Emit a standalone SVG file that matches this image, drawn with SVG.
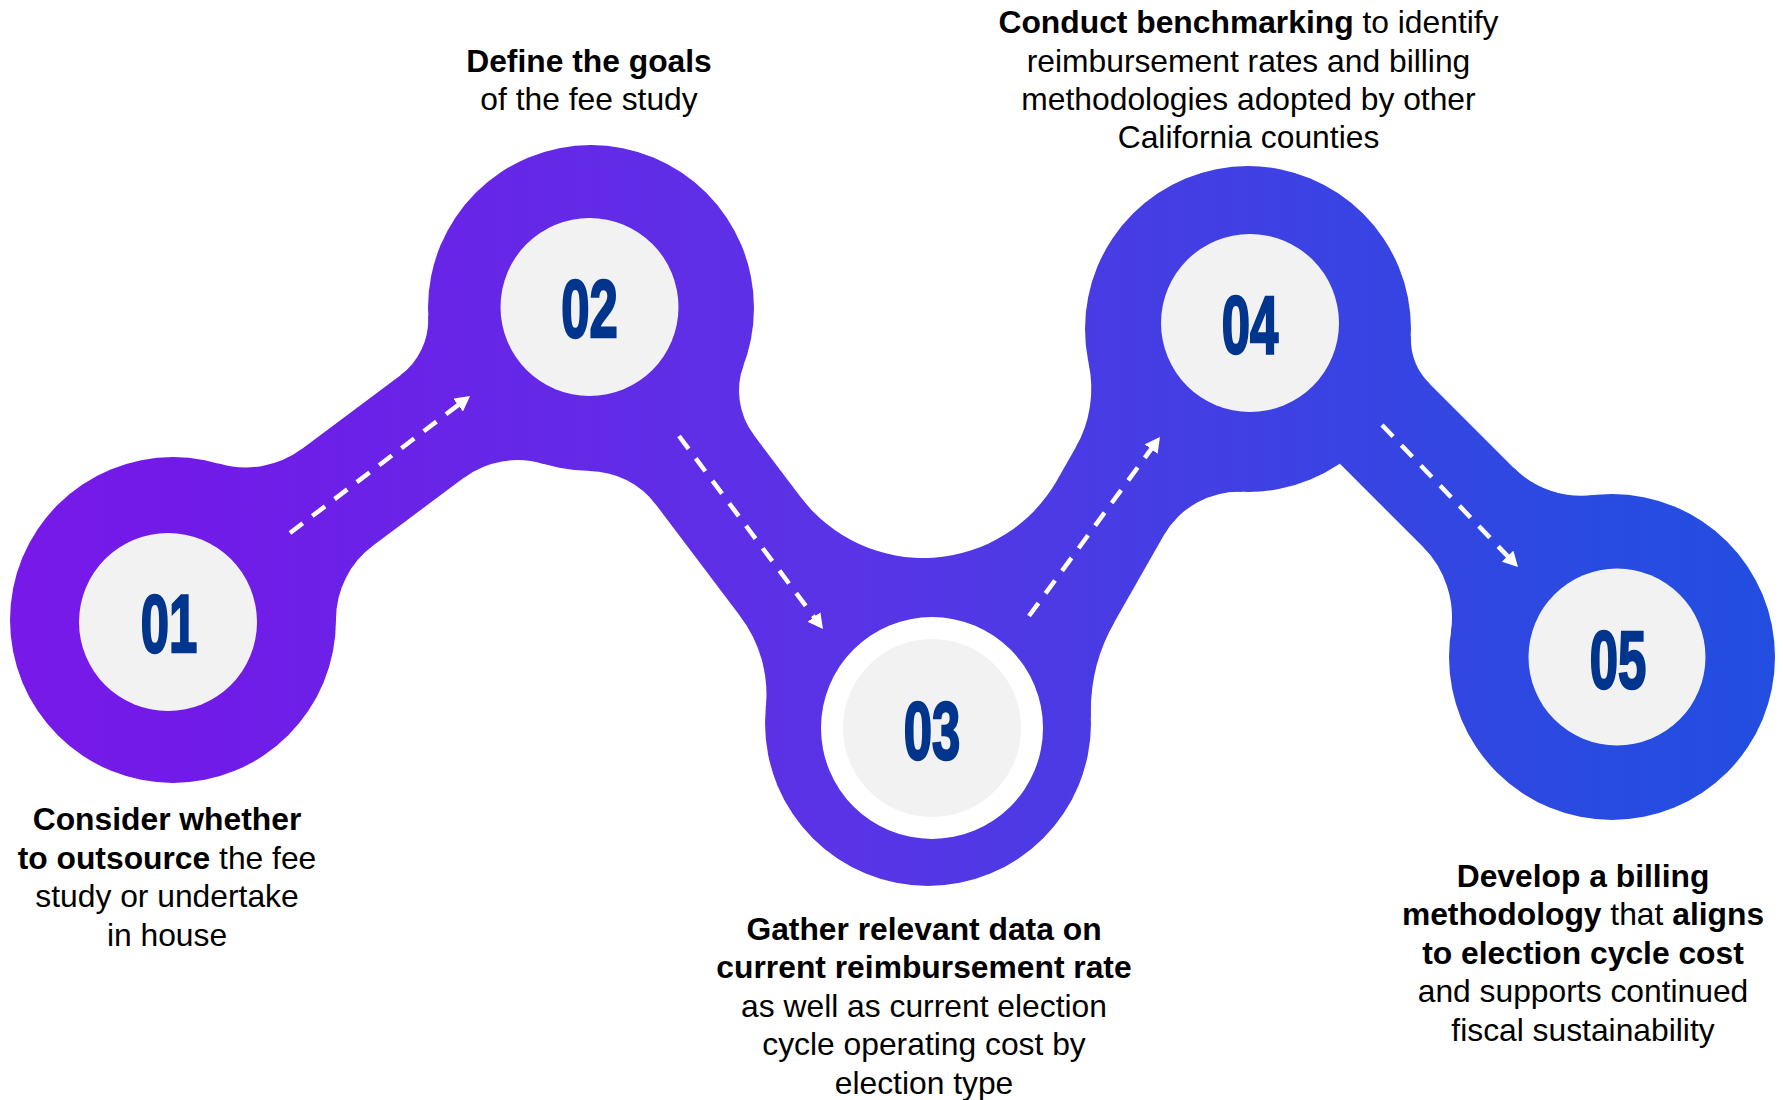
<svg xmlns="http://www.w3.org/2000/svg" width="1783" height="1100" viewBox="0 0 1783 1100">
  <defs>
    <!-- horizontal violet-to-blue fill shared by every piece of the road -->
    <linearGradient id="roadFill" gradientUnits="userSpaceOnUse" x1="0" y1="0" x2="1783" y2="0">
      <stop offset="0" stop-color="#781AE9"/>
      <stop offset="0.097" stop-color="#721AE8"/>
      <stop offset="0.477" stop-color="#5934E6"/>
      <stop offset="0.904" stop-color="#284BE1"/>
      <stop offset="1" stop-color="#224EE0"/>
    </linearGradient>
    <marker id="arrowHead" markerUnits="userSpaceOnUse" viewBox="0 0 15 16" markerWidth="15" markerHeight="16" refX="1" refY="8" orient="auto">
      <path d="M0,0 L15,8 L0,16 Z" fill="#FFFFFF"/>
    </marker>
  </defs>
  <style>
    .road { fill: url(#roadFill); }
    .disc { fill: #F2F2F2; }
    .ring { fill: #FFFFFF; }
    .num { font-family: "Liberation Sans", Arial, sans-serif; font-weight: 700; font-size: 82px; fill: #00358E; stroke: #00358E; stroke-width: 2.6; text-anchor: middle; }
    .lbl { font-family: "Liberation Sans", Arial, sans-serif; font-size: 31.8px; fill: #000000; text-anchor: middle; }
    .b { font-weight: 700; }
    .dash { fill: none; stroke: #FFFFFF; stroke-width: 4.5; stroke-dasharray: 16 12; marker-end: url(#arrowHead); }
  </style>

  <rect width="1783" height="1100" fill="#FFFFFF"/>

  <!-- the winding road: stops, straight bands and rounded joins -->
  <g id="road" class="road">
    <circle cx="173" cy="620" r="163"/>
    <circle cx="591" cy="308" r="163"/>
    <circle cx="928" cy="723" r="163"/>
    <circle cx="1248" cy="329" r="163"/>
    <circle cx="1612" cy="657" r="163"/>

    <polygon points="129.1,577.9 563.45,253.68 635.23,349.84 200.88,674.06"/>
    <polygon points="626.23,266.25 960.9,709.14 865.14,781.5 530.47,338.61"/>
    <polygon points="1020.89,786.17 1278.29,334.29 1174.01,274.89 916.61,726.77"/>
    <polygon points="1304.81,258.95 1664.02,618.16 1579.16,703.02 1219.95,343.81"/>

    <path d="M302.4,448.54 A95,95 0 0 1 218.85,463.57 L173,620 Z"/>
    <path d="M372.98,545.6 A92,92 0 0 0 336,619.57 L173,620 Z"/>
    <path d="M400.15,375.59 A70,70 0 0 0 428.19,316.04 L591,308 Z"/>
    <path d="M463.61,477.96 A90,90 0 0 1 543.61,463.97 L591,308 Z"/>
    <path d="M753.96,435.27 A74,74 0 0 1 743.69,364.84 L591,308 Z"/>
    <path d="M655.95,504.67 A85,85 0 0 0 589.11,470.95 L591,308 Z"/>
    <path d="M800.38,496.83 L928,723 L1057.1,480.2 A154,154 0 0 1 800.38,496.83 Z"/>
    <path d="M740.25,616.22 A130,130 0 0 1 765.84,707.21 L928,723 Z"/>
    <path d="M1114.47,621.88 A180,180 0 0 0 1090.95,717.29 L928,723 Z"/>
    <path d="M1075.56,447.72 A120,120 0 0 0 1088.62,363.17 L1248,329 Z"/>
    <path d="M1163.82,535.25 A86,86 0 0 1 1241.81,491.88 L1248,329 Z"/>
    <path d="M1429.87,384.01 A65,65 0 0 1 1410.88,335.47 L1248,329 Z"/>
    <path d="M1513.2,467.34 A97,97 0 0 0 1593.05,495.11 L1612,657 Z"/>
    <path d="M1422.72,546.58 A100,100 0 0 1 1450.87,632.39 L1612,657 Z"/>
  </g>

  <!-- dashed direction arrows between consecutive stops -->
  <g id="connectors" class="dash">
    <line x1="290" y1="533" x2="458.9" y2="404.5"/>
    <line x1="679" y1="436" x2="814.6" y2="617.8"/>
    <line x1="1029" y1="616" x2="1151.7" y2="448.3"/>
    <line x1="1382" y1="425" x2="1508.3" y2="556.9"/>
  </g>

  <g id="step-01">
    <circle class="disc" cx="168" cy="622" r="89"/>
    <text class="num" transform="translate(169,651.5) scale(0.62,1)">01</text>
    <text class="lbl" x="167" y="830.4"><tspan class="b">Consider whether</tspan></text>
    <text class="lbl" x="167" y="868.8"><tspan class="b">to outsource</tspan> the fee</text>
    <text class="lbl" x="167" y="907.2">study or undertake</text>
    <text class="lbl" x="167" y="945.6">in house</text>
  </g>

  <g id="step-02">
    <circle class="disc" cx="589.5" cy="307" r="89"/>
    <text class="num" transform="translate(589.5,336.5) scale(0.62,1)">02</text>
    <text class="lbl" x="589" y="72"><tspan class="b">Define the goals</tspan></text>
    <text class="lbl" x="589" y="110.4">of the fee study</text>
  </g>

  <g id="step-03">
    <circle class="ring" cx="932" cy="728" r="111"/>
    <circle class="disc" cx="932" cy="728" r="89"/>
    <text class="num" transform="translate(932,758.5) scale(0.62,1)">03</text>
    <text class="lbl" x="924" y="940"><tspan class="b">Gather relevant data on</tspan></text>
    <text class="lbl" x="924" y="978.4"><tspan class="b">current reimbursement rate</tspan></text>
    <text class="lbl" x="924" y="1016.8">as well as current election</text>
    <text class="lbl" x="924" y="1055.2">cycle operating cost by</text>
    <text class="lbl" x="924" y="1093.6">election type</text>
  </g>

  <g id="step-04">
    <circle class="disc" cx="1250" cy="323" r="89"/>
    <text class="num" transform="translate(1250,352.5) scale(0.62,1)">04</text>
    <text class="lbl" x="1248.5" y="33.2"><tspan class="b">Conduct benchmarking</tspan> to identify</text>
    <text class="lbl" x="1248.5" y="71.6">reimbursement rates and billing</text>
    <text class="lbl" x="1248.5" y="110">methodologies adopted by other</text>
    <text class="lbl" x="1248.5" y="148.4">California counties</text>
  </g>

  <g id="step-05">
    <circle class="disc" cx="1617" cy="657" r="88.5"/>
    <text class="num" transform="translate(1618,687.5) scale(0.62,1)">05</text>
    <text class="lbl" x="1583" y="887"><tspan class="b">Develop a billing</tspan></text>
    <text class="lbl" x="1583" y="925.4"><tspan class="b">methodology</tspan> that <tspan class="b">aligns</tspan></text>
    <text class="lbl" x="1583" y="963.8"><tspan class="b">to election cycle cost</tspan></text>
    <text class="lbl" x="1583" y="1002.2">and supports continued</text>
    <text class="lbl" x="1583" y="1040.6">fiscal sustainability</text>
  </g>
</svg>
